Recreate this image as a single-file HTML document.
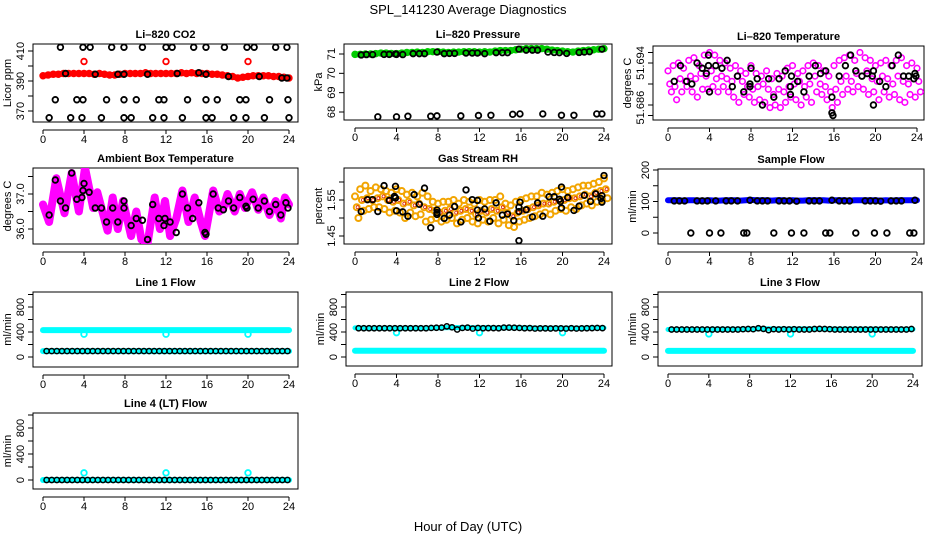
<!DOCTYPE html>
<html><head><meta charset="utf-8"><style>
html,body{margin:0;padding:0;background:#fff;}
svg{display:block;font-family:"Liberation Sans",Arial,sans-serif;}
.t{font-weight:bold;font-size:11px;}
.tk{font-size:11px;}
</style></head><body>
<svg id="chart" width="936" height="540" viewBox="0 0 936 540" xmlns="http://www.w3.org/2000/svg">
<text x="468" y="14" text-anchor="middle" font-size="13">SPL_141230  Average Diagnostics</text>
<text x="468" y="531" text-anchor="middle" font-size="13">Hour of Day (UTC)</text>
</svg>
<script>
const H49=[0,0.5,1,1.5,2,2.5,3,3.5,4,4.5,5,5.5,6,6.5,7,7.5,8,8.5,9,9.5,10,10.5,11,11.5,12,12.5,13,13.5,14,14.5,15,15.5,16,16.5,17,17.5,18,18.5,19,19.5,20,20.5,21,21.5,22,22.5,23,23.5,24];
const xTicks=[0,4,8,12,16,20,24];
// CO2
const co2Red=[393.5,394,394.5,394.5,395,395,395,395,395,395,394.5,395,394.5,394,394,394.5,395,395,395,395,395.5,395,395,395,395,395,395,395.5,395,395.5,395,395,395,394.5,394.5,394,393.5,393,392,392.5,393,393.5,393.5,393.5,393.5,393,393,392.5,392];
const co2RedSpikeH=[4,12,20];
const co2RedSpikeV=[403,403,403];
const co2BlkH=[1.7,3.9,4.6,6.7,7.9,9.7,12,12.6,14.7,15.9,17.7,19.9,20.6,22.7,23.8, 2.2,5.1,7.3,7.9,10.2,13.1,15.2,15.9,18.1,21.1,23.3,23.8, 1.2,3.3,3.9,6.2,7.9,9.1,11.3,11.8,14.1,15.9,17,19.2,19.8,22.1,23.9, 0.6,2.7,3.8,5.7,7.9,8.6,10.7,11.8,13.6,15.9,16.5,18.6,19.8,21.6,24];
const co2BlkV=[412.5,412.5,412.5,412.5,412.5,412.5,412.5,412.5,412.5,412.5,412.5,412.5,412.5,412.5,412.5, 395,394.5,394.5,394.5,394.5,395,395.5,394.5,393,393,392,392, 377.5,377.5,377.5,377.5,377.5,377.5,377.5,377.5,377.5,377.5,377.5,377.5,377.5,377.5,377.5, 365.5,365.5,365.5,365.5,365.5,365.5,365.5,365.5,365.5,365.5,365.5,365.5,365.5,365.5,365.5];
// Pressure
const presGreen=[70.98,70.98,71.0,71.0,71.02,71.05,71.05,71.03,71.02,71.05,71.08,71.08,71.1,71.08,71.12,71.12,71.12,71.1,71.08,71.1,71.1,71.12,71.12,71.12,71.1,71.12,71.1,71.15,71.18,71.18,71.18,71.22,71.25,71.28,71.28,71.28,71.28,71.25,71.2,71.18,71.15,71.12,71.1,71.15,71.18,71.2,71.22,71.25,71.28];
const presBlkH=[0.6,1.1,1.7,2.8,3.3,3.9,4,4.6,5.6,6.2,6.7,7.9,8.6,9.1,9.6,10.7,11.3,11.8,12.5,13.6,14.2,14.7,15.8,16.5,17.1,17.6,18.6,19.2,19.7,20.4,21.6,22.1,22.6,23.8, 2.2,4,5.1,7.3,7.9,10.2,11.9,13.1,15.2,15.9,18.1,19.9,21.1,23.3,23.8];
const presBlkV=[70.95,70.97,70.97,70.98,70.98,71.0,70.98,70.97,71.02,71.02,71.02,71.1,71.02,71.03,71.03,71.05,71.05,71.05,71.02,71.07,71.07,71.07,71.25,71.2,71.2,71.2,71.1,71.08,71.07,71.03,71.08,71.1,71.12,71.25, 67.75,67.75,67.78,67.78,67.8,67.8,67.82,67.83,67.88,67.9,67.9,67.83,67.83,67.9,67.9];
// Li-820 temperature
const tempA=[51.6925,51.6935,51.694,51.693,51.6945,51.695,51.6935,51.6955,51.696,51.6955,51.6945,51.694,51.693,51.6935,51.6925,51.692,51.6935,51.692,51.6915,51.6925,51.691,51.692,51.6915,51.693,51.6935,51.692,51.6925,51.6935,51.694,51.6935,51.6925,51.6915,51.6935,51.6945,51.695,51.6955,51.6945,51.696,51.695,51.6945,51.6935,51.694,51.6945,51.6935,51.6945,51.695,51.6935,51.694,51.693];
const tempB=[51.690,51.6895,51.691,51.6905,51.6915,51.691,51.692,51.6915,51.6925,51.691,51.6915,51.691,51.6905,51.6915,51.6905,51.6895,51.689,51.6895,51.69,51.689,51.688,51.689,51.6885,51.6895,51.690,51.6905,51.6895,51.690,51.6915,51.690,51.6895,51.6885,51.689,51.6905,51.6915,51.6905,51.692,51.6915,51.6925,51.691,51.6905,51.6915,51.691,51.690,51.6915,51.6905,51.690,51.691,51.6905];
const tempC=[51.6885,51.687,51.6885,51.6895,51.6885,51.6875,51.689,51.689,51.6895,51.6885,51.6895,51.6885,51.6875,51.6865,51.688,51.6875,51.6865,51.687,51.6865,51.6855,51.686,51.6855,51.6865,51.6875,51.687,51.686,51.6875,51.6865,51.6885,51.688,51.687,51.6855,51.6865,51.688,51.689,51.6885,51.6895,51.689,51.688,51.6885,51.687,51.6885,51.6875,51.688,51.687,51.6865,51.688,51.6875,51.6885];
const tempBlkH=[0.6,1.2,1.8,2.3,2.8,3.3,3.7,3.9,3.9,4.0,4.6,5.2,5.7,6.2,6.7,7.3,7.9,7.9,8.0,8.6,9.1,9.7,10.2,10.7,11.3,11.8,11.8,11.9,12.5,13.1,13.6,14.2,14.7,15.2,15.8,15.8,15.9,16.5,17.1,17.6,18.1,18.7,19.2,19.7,19.8,19.8,20.4,21.0,21.6,22.2,22.7,23.2,23.7,23.8,23.9];
const tempBlkV=[51.6905,51.6935,51.6905,51.690,51.694,51.693,51.692,51.6955,51.6935,51.6885,51.6935,51.693,51.6945,51.6895,51.6915,51.6885,51.690,51.6895,51.693,51.691,51.686,51.691,51.6875,51.691,51.6925,51.688,51.6895,51.6915,51.6905,51.6885,51.6915,51.6935,51.692,51.6925,51.6875,51.6845,51.684,51.6915,51.6935,51.6955,51.6925,51.6915,51.692,51.6915,51.6925,51.686,51.6905,51.6895,51.6935,51.6955,51.6915,51.6915,51.691,51.692,51.6915];
// Ambient box temperature
const ambH=[0,0.6,1.3,2.1,2.8,3.5,4.1,4.9,5.3,5.8,6.3,6.8,7.3,7.8,8.6,9.1,9.6,10.2,10.9,11.4,11.9,12.4,13.0,13.6,14.2,14.8,15.4,15.8,16.6,17.2,17.6,18.0,18.7,19.2,19.7,20.4,21.0,21.5,22.1,22.7,23.2,23.6,24];
const ambV=[36.7,36.2,37.45,36.45,37.6,36.5,37.75,36.6,37.05,36.5,35.95,36.9,36.0,36.8,35.8,36.5,35.7,35.6,36.9,36.0,36.8,35.8,36.3,37.1,36.2,36.9,36.2,35.8,37.1,36.5,36.6,37.0,36.5,37.0,36.6,37.05,36.55,36.9,36.4,36.8,36.3,36.9,36.7];
const ambBlkH=[0.6,1.2,1.7,2.2,2.8,3.3,3.8,3.9,4.0,4.5,5.1,5.7,6.2,6.8,7.3,7.9,7.9,8.6,9.1,9.7,10.2,10.7,11.3,11.8,11.9,12.4,13.0,13.6,14.1,14.6,15.2,15.8,15.9,16.6,17.1,17.6,18.1,18.6,19.2,19.8,19.9,20.5,21.0,21.6,22.1,22.7,23.2,23.7,23.9];
const ambBlkV=[36.4,37.4,36.8,36.6,37.6,36.85,36.9,37.1,37.3,37.05,36.6,36.6,36.2,36.6,36.2,36.6,36.8,36.1,36.3,36.25,35.7,36.7,36.3,36.1,36.3,36.2,35.9,37.0,36.6,36.3,36.75,35.9,35.85,37.0,36.6,36.55,36.8,36.6,36.9,36.65,36.6,36.85,36.6,36.8,36.5,36.7,36.4,36.75,36.6];
// Gas stream RH
const rhA=[1.56,1.58,1.59,1.575,1.585,1.58,1.575,1.57,1.58,1.575,1.565,1.57,1.56,1.57,1.56,1.545,1.54,1.545,1.545,1.55,1.54,1.55,1.545,1.54,1.55,1.545,1.55,1.55,1.56,1.54,1.535,1.545,1.55,1.555,1.56,1.56,1.57,1.565,1.57,1.575,1.58,1.575,1.58,1.585,1.59,1.59,1.595,1.60,1.61];
const rhB=[1.53,1.55,1.555,1.55,1.555,1.56,1.55,1.545,1.55,1.54,1.545,1.535,1.54,1.53,1.525,1.52,1.515,1.52,1.525,1.515,1.52,1.525,1.52,1.51,1.52,1.515,1.525,1.52,1.53,1.515,1.505,1.515,1.52,1.525,1.53,1.535,1.54,1.54,1.545,1.55,1.55,1.555,1.555,1.56,1.565,1.56,1.57,1.575,1.58];
const rhC=[1.50,1.52,1.525,1.53,1.53,1.525,1.515,1.52,1.515,1.50,1.515,1.505,1.51,1.49,1.495,1.50,1.49,1.495,1.50,1.485,1.495,1.50,1.49,1.485,1.495,1.49,1.50,1.485,1.495,1.48,1.475,1.49,1.495,1.50,1.505,1.51,1.515,1.51,1.52,1.525,1.52,1.53,1.525,1.535,1.54,1.535,1.545,1.55,1.555];
const rhBlkH=[0.6,1.2,1.7,2.2,2.8,3.3,3.8,3.9,3.9,4.0,4.6,5.1,5.7,6.2,6.7,7.3,7.9,7.9,7.9,8.6,9.1,9.6,10.2,10.7,11.3,11.8,11.8,11.9,12.5,13.0,13.6,14.2,14.7,15.3,15.8,15.8,15.9,15.8,16.5,17.1,17.6,18.1,18.7,19.2,19.7,19.8,19.9,19.9,20.5,21.1,21.6,22.1,22.7,23.2,23.7,23.8,23.8,24.0];
const rhBlkV=[1.518,1.551,1.551,1.518,1.590,1.549,1.560,1.556,1.588,1.520,1.517,1.505,1.565,1.538,1.583,1.473,1.515,1.510,1.522,1.499,1.508,1.532,1.489,1.578,1.551,1.549,1.522,1.500,1.525,1.491,1.542,1.508,1.511,1.493,1.530,1.518,1.544,1.437,1.523,1.503,1.542,1.505,1.559,1.559,1.552,1.546,1.528,1.586,1.557,1.521,1.533,1.563,1.546,1.567,1.554,1.562,1.544,1.618];
// Sample flow
const sampBlue=[104,104,104,103,104,104,103,103,104,103,103,104,104,104,103,104,105,104,104,104,103,104,104,103,104,103,103,104,104,104,104,103,104,104,104,103,104,104,104,104,104,103,104,103,104,104,104,104,104];
const sampBlkH=[0.6,1.1,1.6,2.8,3.3,3.8,4.6,5.6,6.1,6.7,7.9,8.6,9.1,9.6,10.7,11.2,11.7,12.4,13.6,14.1,14.6,15.8,16.5,17.0,17.5,19.0,19.5,20.0,20.5,21.5,22.0,22.5,23.8, 2.2,4,5.1,7.3,7.6,10.2,11.9,13.1,15.2,15.6,18.1,19.9,21.1,23.3,23.7];
const sampBlkV=[102,102,102,102,102,102,102,102,102,102,104,102,102,102,102,102,102,101,102,102,102,104,102,102,102,102,102,102,101,102,102,102,104, 0,0,0,0,0,0,0,0,0,0,0,0,0,0,0];
// Line flows (half-hour grid)
const line1Up=[430,430,430,430,430,430,430,430,430,430,430,430,430,430,430,430,430,430,430,430,430,430,430,430,430,430,430,430,430,430,430,430,430,430,430,430,430,430,430,430,430,430,430,430,430,430,430,430,430];
const line1Low=[95,95,95,95,95,95,95,95,95,95,95,95,95,95,95,95,95,95,95,95,95,95,95,95,95,95,95,95,95,95,95,95,95,95,95,95,95,95,95,95,95,95,95,95,95,95,95,95,95];
const line1Blk=[95,95,95,95,95,95,95,95,95,95,95,95,95,95,95,95,95,95,95,95,95,95,95,95,95,95,95,95,95,95,95,95,95,95,95,95,95,95,95,95,95,95,95,95,95,95,95,95];
const line2Up=[465,465,460,460,460,460,462,462,460,462,462,462,462,462,462,465,465,468,470,472,470,472,470,468,465,470,468,465,465,468,468,470,468,465,465,462,462,462,462,462,462,462,462,462,462,465,465,465,465];
const line2Low=[100,100,100,100,100,100,100,100,100,100,100,100,100,100,100,100,100,100,100,100,100,100,100,100,100,100,100,100,100,100,100,100,100,100,100,100,100,100,100,100,100,100,100,100,100,100,100,100,100];
const line2Blk=[460,460,460,460,460,460,460,460,460,460,460,460,460,460,465,468,470,490,475,440,465,470,455,465,460,462,462,460,470,470,468,465,460,462,455,458,458,456,458,458,455,460,455,458,460,462,465,462];
const line3Up=[440,440,440,440,440,440,440,440,440,445,445,445,445,445,445,445,448,450,450,452,450,448,450,448,450,448,450,450,450,448,448,448,448,448,448,448,448,448,448,448,448,448,445,445,445,445,445,445,445];
const line3Low=[98,98,98,98,98,98,98,98,98,98,98,98,98,98,98,98,98,98,98,98,98,98,98,98,98,98,98,98,98,98,98,98,98,98,98,98,98,98,98,98,98,98,98,98,98,98,98,98,98];
const line3Blk=[440,440,440,440,440,440,440,440,440,440,440,440,440,440,445,448,445,460,450,430,445,440,445,440,445,440,440,440,448,450,448,445,440,440,440,440,440,440,440,440,440,440,440,440,440,440,440,448];
const line4Cy=[0,0,0,0,0,0,0,0,0,0,0,0,0,0,0,0,0,0,0,0,0,0,0,0,0,0,0,0,0,0,0,0,0,0,0,0,0,0,0,0,0,0,0,0,0,0,0,0,0];
const line4Blk=[0,0,0,0,0,0,0,0,0,0,0,0,0,0,0,0,0,0,0,0,0,0,0,0,0,0,0,0,0,0,0,0,0,0,0,0,0,0,0,0,0,0,0,0,0,0,0,0];
const dipH=[4,12,20];
const line1Dip=[365,365,365];
const line2Dip=[390,390,390];
const line3Dip=[370,370,370];
const line4Dip=[110,110,110];

const NS='http://www.w3.org/2000/svg';
const svg=document.getElementById('chart');
function mk(tag,attrs,parent){const e=document.createElementNS(NS,tag);for(const k in attrs)e.setAttribute(k,attrs[k]);(parent||svg).appendChild(e);return e;}

function panel(p){
  const g=mk('g',{});
  
  
  const xs=h=>p.x0+h*(p.x24-p.x0)/24;
  const ys=v=>p.yp[0]+(v-p.yv[0])*(p.yp[1]-p.yp[0])/(p.yv[1]-p.yv[0]);
  p.xs=xs;p.ys=ys;p.g=g;
  const cx=(p.bx+p.bx2)/2;
  const t=mk('text',{x:cx,y:p.by-6,'text-anchor':'middle','class':'t'},g);
  t.textContent=p.title;
  
  
  const box=mk('rect',{x:p.bx,y:p.by,width:p.bx2-p.bx,height:p.by2-p.by,fill:'none',stroke:'#000','stroke-width':1},g);
  
  
  const ay=p.by2+8;
  const ax=mk('line',{x1:xs(0),x2:xs(24),y1:ay,y2:ay,stroke:'#000'},g);
  
  
  xTicks.forEach(v=>{
    const tk=mk('line',{x1:xs(v),x2:xs(v),y1:ay,y2:ay+4,stroke:'#000'},g);
    
    
    const l=mk('text',{x:xs(v),y:ay+13,'text-anchor':'middle','class':'tk'},g);
    l.textContent=v;
    
    
  });
  p.yticks.forEach(v=>{
    const tk=mk('line',{x1:p.bx-5,x2:p.bx,y1:ys(v),y2:ys(v),stroke:'#000'},g);
    
    
  });
  p.ylabels.forEach((v,i)=>{
    const y=ys(v);const x=p.bx-9;
    const l=mk('text',{x:x,y:y,'text-anchor':'middle',transform:`rotate(-90 ${x} ${y})`,'class':'tk'},g);
    l.textContent=p.ylabelText?p.ylabelText[i]:v;
    
    
  });
  const yx=p.bx-22, yy=(p.by+p.by2)/2;
  const yl=mk('text',{x:yx,y:yy,'text-anchor':'middle',transform:`rotate(-90 ${yx} ${yy})`,'font-size':'11'},g);
  yl.textContent=p.ylab;
  
  
  const cp=mk('clipPath',{id:'clip-'+p.name},g);
  mk('rect',{x:p.bx,y:p.by,width:p.bx2-p.bx,height:p.by2-p.by},cp);
  p.d=mk('g',{'clip-path':'url(#clip-'+p.name+')'},g);
  
  
  return p;
}
function band(p,H,V,color,w,name){
  const pts=H.map((h,i)=>p.xs(h).toFixed(1)+','+p.ys(V[i]).toFixed(1)).join(' ');
  const l=mk('polyline',{points:pts,fill:'none',stroke:color,'stroke-width':w,'stroke-linejoin':'round','stroke-linecap':'round'},p.d);
  
  
}
function pts(p,H,V,color,name,off,r,sw){
  off=off||0;r=r||2.8;sw=sw||1.8;
  V.forEach((v,i)=>{
    const c=mk('circle',{cx:p.xs(H[i]+off),cy:p.ys(v),r:r,fill:'none',stroke:color,'stroke-width':sw},p.d);
    
    
  });
}
const BLK='#000',RED='#ff0000',GRN='#00cc00',MAG='#ff00ff',BLU='#0000ff',CY='#00ffff',ORG='#f2a400';

// Row 1
let p1=panel({name:'panel-li820-co2',title:'Li\u2013820 CO2',bx:33,bx2:298,by:44,by2:122,x0:43,x24:289,yv:[390,410],yp:[81,51],yticks:[370,380,390,400,410],ylabels:[370,390,410],ylab:'Licor ppm'});
band(p1,H49,co2Red,RED,6,'co2-red-series');
pts(p1,H49,co2Red,RED,'co2-red-point');
pts(p1,co2RedSpikeH,co2RedSpikeV,RED,'co2-red-spike');
pts(p1,co2BlkH,co2BlkV,BLK,'co2-black-point');

let p2=panel({name:'panel-li820-pressure',title:'Li\u2013820 Pressure',bx:344,bx2:612,by:44,by2:120,x0:355,x24:604,yv:[71,68],yp:[54,112],yticks:[68,69,70,71],ylabels:[68,69,70,71],ylab:'kPa'});
band(p2,H49,presGreen,GRN,6,'pressure-green-series');
pts(p2,H49,presGreen,GRN,'pressure-green-point');
pts(p2,presBlkH,presBlkV,BLK,'pressure-black-point');

let p3=panel({name:'panel-li820-temperature',title:'Li\u2013820 Temperature',bx:653,bx2:924,by:46,by2:120,x0:668,x24:917,yv:[51.694,51.686],yp:[63,105],yticks:[51.696,51.694,51.690,51.686,51.684],ylabels:[51.694,51.6855],ylabelText:['51.694','51.686'],ylab:'degrees C'});
pts(p3,H49,tempA,MAG,'temp-magenta-point',0,2.8,1.6);
pts(p3,H49,tempB,MAG,'temp-magenta-point',0.17,2.8,1.6);
pts(p3,H49,tempC,MAG,'temp-magenta-point',0.33,2.8,1.6);
pts(p3,tempBlkH,tempBlkV,BLK,'temp-black-point');

// Row 2
let p4=panel({name:'panel-ambient-box-temperature',title:'Ambient Box Temperature',bx:33,bx2:298,by:168,by2:244,x0:43,x24:289,yv:[37,36],yp:[194,229],yticks:[36,36.5,37,37.5],ylabels:[36,37],ylabelText:['36.0','37.0'],ylab:'degrees C'});
band(p4,ambH,ambV,MAG,8,'ambient-magenta-series');
pts(p4,ambBlkH,ambBlkV,BLK,'ambient-black-point');

let p5=panel({name:'panel-gas-stream-rh',title:'Gas Stream RH',bx:344,bx2:612,by:168,by2:244,x0:355,x24:604,yv:[1.55,1.45],yp:[200,236],yticks:[1.45,1.5,1.55,1.6],ylabels:[1.45,1.55],ylabelText:['1.45','1.55'],ylab:'percent'});
pts(p5,H49,rhA,ORG,'rh-orange-point',0,3,2);
pts(p5,H49,rhB,ORG,'rh-orange-point',0.17,3,2);
pts(p5,H49,rhC,ORG,'rh-orange-point',0.33,3,2);
pts(p5,H49,rhB,'#dd2200','rh-red-point',0.25,1.5,0.8);
pts(p5,rhBlkH,rhBlkV,BLK,'rh-black-point');

let p6=panel({name:'panel-sample-flow',title:'Sample Flow',bx:658,bx2:924,by:169,by2:244,x0:668,x24:917,yv:[0,200],yp:[233,170],yticks:[0,50,100,150,200],ylabels:[0,100,200],ylab:'ml/min'});
band(p6,H49,sampBlue,BLU,6,'sample-blue-series');
pts(p6,sampBlkH,sampBlkV,BLK,'sample-black-point');

// Row 3
const flowTicks=[0,200,400,600,800,1000];
let p7=panel({name:'panel-line1-flow',title:'Line 1 Flow',bx:33,bx2:298,by:292,by2:367,x0:43,x24:289,yv:[0,400],yp:[357,332],yticks:flowTicks,ylabels:[0,400,800],ylab:'ml/min'});
band(p7,H49,line1Up,CY,6,'line1-cyan-upper');
pts(p7,dipH,line1Dip,CY,'line1-cyan-dip');
band(p7,H49,line1Low,CY,6,'line1-cyan-lower');
pts(p7,H49,line1Blk,BLK,'line1-black-point',0.35,2.6,1.5);

let p8=panel({name:'panel-line2-flow',title:'Line 2 Flow',bx:346,bx2:612,by:292,by2:366,x0:355,x24:604,yv:[0,400],yp:[357,332],yticks:flowTicks,ylabels:[0,400,800],ylab:'ml/min'});
band(p8,H49,line2Up,CY,5,'line2-cyan-upper');
pts(p8,dipH,line2Dip,CY,'line2-cyan-dip');
band(p8,H49,line2Low,CY,6,'line2-cyan-lower');
pts(p8,H49,line2Blk,BLK,'line2-black-point',0.35,2.6,1.5);

let p9=panel({name:'panel-line3-flow',title:'Line 3 Flow',bx:658,bx2:922,by:292,by2:366,x0:668,x24:913,yv:[0,400],yp:[357,332],yticks:flowTicks,ylabels:[0,400,800],ylab:'ml/min'});
band(p9,H49,line3Up,CY,5,'line3-cyan-upper');
pts(p9,dipH,line3Dip,CY,'line3-cyan-dip');
band(p9,H49,line3Low,CY,6,'line3-cyan-lower');
pts(p9,H49,line3Blk,BLK,'line3-black-point',0.35,2.6,1.5);

// Row 4
let p10=panel({name:'panel-line4-lt-flow',title:'Line 4 (LT) Flow',bx:33,bx2:298,by:413,by2:489,x0:43,x24:289,yv:[0,400],yp:[480,454],yticks:flowTicks,ylabels:[0,400,800],ylab:'ml/min'});
band(p10,H49,line4Cy,CY,6,'line4-cyan-series');
pts(p10,dipH,line4Dip,CY,'line4-cyan-dip');
pts(p10,H49,line4Blk,BLK,'line4-black-point',0.35,2.6,1.5);
</script>
</body></html>
